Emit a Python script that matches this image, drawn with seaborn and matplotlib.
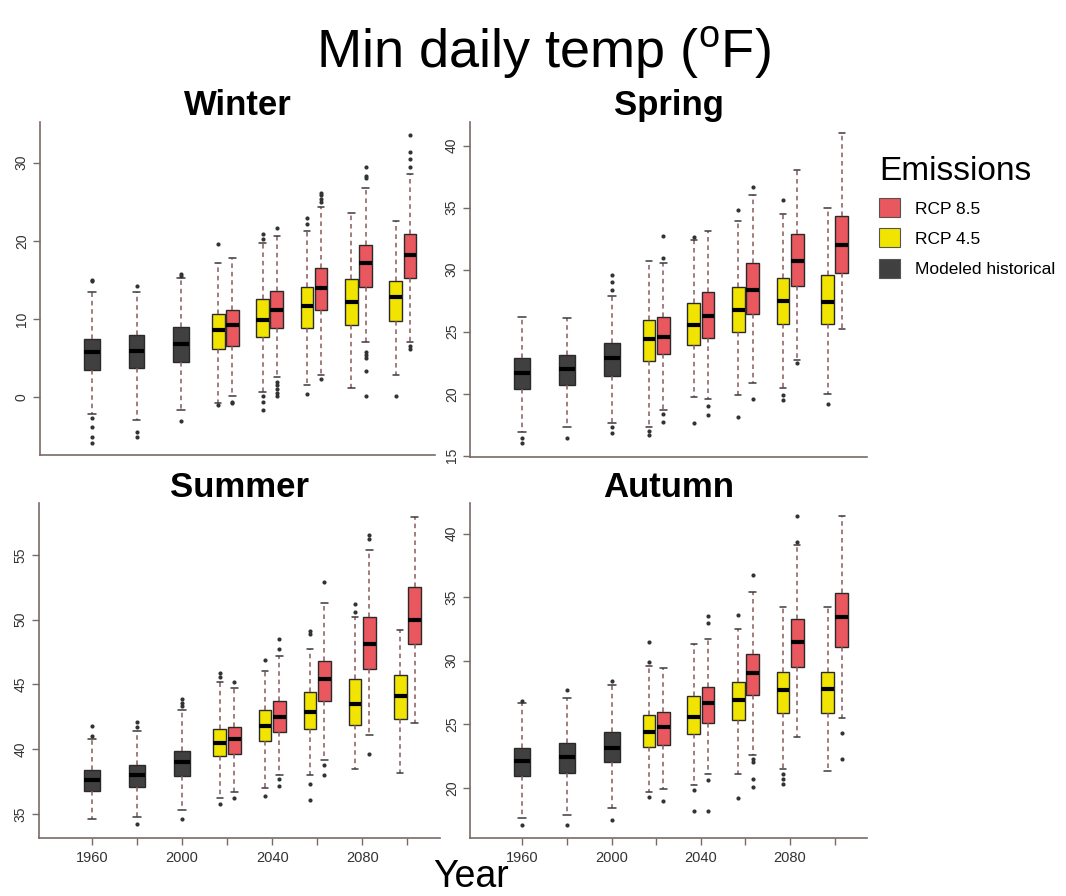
import numpy as np
import pandas as pd
import matplotlib
matplotlib.use("Agg")
import matplotlib.pyplot as plt
from matplotlib.patches import Patch
import seaborn as sns

# ---------------- data ----------------
HIST_YEARS = [1960, 1980, 2000]
FUT_YEARS = [2020, 2040, 2060, 2080, 2100]
SEASONS = ["Winter", "Spring", "Summer", "Autumn"]
SCENARIOS = ["Modeled historical", "RCP 4.5", "RCP 8.5"]
XTICKS = [1960, 1980, 2000, 2020, 2040, 2060, 2080, 2100]
XTICK_LABELS = ["1960", "", "2000", "", "2040", "", "2080", ""]

# order in every array: 3 historical (1960,1980,2000), 5 RCP 4.5, 5 RCP 8.5 (2020..2100)
WINTER_LO = [-2.1, -2.9, -1.6, -0.8, 0.7, 1.5, 1.2, 2.8, 0.1, 2.6, 2.8, 7.1, 7.1]
WINTER_Q1 = [3.5, 3.7, 4.5, 6.1, 7.7, 8.8, 9.2, 9.8, 6.5, 8.9, 11.15, 14.1, 15.2]
WINTER_MED = [5.8, 5.9, 6.75, 8.6, 9.9, 11.6, 12.2, 12.8, 9.2, 11.15, 13.9, 17.1, 18.2]
WINTER_Q3 = [7.5, 7.9, 9.0, 10.7, 12.5, 14.1, 15.1, 14.9, 11.15, 13.6, 16.5, 19.5, 20.9]
WINTER_HI = [13.4, 13.4, 15.2, 17.1, 19.7, 21.2, 23.5, 22.5, 17.8, 20.6, 24.3, 26.8, 28.5]
WINTER_OUT = [[15.0, 14.8, -2.7, -3.8, -5.1, -5.9], [14.2, -4.4, -5.1], [15.8, 15.5, -3.0],
              [19.6, -1.0], [20.9, 20.2, 0.1, -0.6, -1.7], [22.9, 22.2, 0.4], [], [0.2],
              [-0.8, -0.6], [21.6, 2.0, 1.5, 1.0, 0.5, 0.2], [25.0, 25.4, 25.8, 26.1, 2.3],
              [28.0, 28.3, 29.5, 5.8, 5.4, 5.0, 3.3, 0.2], [29.5, 30.5, 31.4, 33.6, 6.5, 6.2]]

SPRING_LO = [16.9, 17.3, 17.6, 17.3, 19.7, 19.9, 20.5, 20.0, 18.7, 19.6, 20.9, 22.7, 25.2]
SPRING_Q1 = [20.4, 20.7, 21.45, 22.6, 23.9, 25.0, 25.6, 25.6, 23.2, 24.5, 26.4, 28.7, 29.7]
SPRING_MED = [21.7, 22.0, 22.9, 24.4, 25.5, 26.75, 27.5, 27.4, 24.6, 26.3, 28.4, 30.7, 32.0]
SPRING_Q3 = [22.85, 23.1, 24.05, 25.95, 27.3, 28.6, 29.3, 29.6, 26.15, 28.2, 30.5, 32.9, 34.3]
SPRING_HI = [26.2, 26.1, 27.9, 30.7, 32.4, 33.9, 34.5, 35.0, 30.5, 33.1, 36.0, 38.0, 41.0]
SPRING_OUT = [[16.4, 16.0], [16.4], [28.4, 29.0, 29.6, 17.3, 16.8],
              [17.0, 16.7], [32.6, 17.6], [34.8, 18.1], [35.6, 19.9, 19.5], [19.2],
              [30.9, 32.7, 18.4, 17.7], [19.0, 18.3], [36.7, 19.6], [22.5], []]

SUMMER_LO = [34.6, 34.8, 35.3, 36.2, 37.0, 38.0, 38.5, 38.2, 36.7, 38.0, 39.2, 41.1, 42.0]
SUMMER_Q1 = [36.8, 37.1, 37.95, 39.45, 40.6, 41.55, 41.9, 42.3, 39.6, 41.3, 43.7, 46.2, 48.1]
SUMMER_MED = [37.6, 38.0, 39.0, 40.5, 41.8, 42.9, 43.5, 44.1, 40.8, 42.5, 45.4, 48.1, 50.0]
SUMMER_Q3 = [38.4, 38.8, 39.9, 41.55, 43.05, 44.45, 45.4, 45.7, 41.75, 43.75, 46.8, 50.2, 52.55]
SUMMER_HI = [40.8, 41.4, 43.0, 45.2, 46.0, 47.7, 50.2, 49.2, 44.7, 47.2, 51.3, 55.4, 57.9]
SUMMER_OUT = [[41.0, 41.8], [41.7, 42.1, 34.2], [43.3, 43.6, 43.9, 34.6],
              [45.6, 45.9, 35.8], [46.9, 36.4], [48.9, 49.1, 37.3, 36.1], [50.6, 51.2], [],
              [45.2, 36.2], [47.7, 48.5, 37.7, 37.2], [52.9, 38.8, 38.0], [56.2, 56.5, 39.6], []]

AUTUMN_LO = [17.6, 17.9, 18.4, 19.7, 20.2, 21.1, 21.5, 21.3, 19.95, 21.1, 22.6, 24.0, 25.5]
AUTUMN_Q1 = [20.9, 21.15, 22.0, 23.2, 24.2, 25.3, 25.9, 25.9, 23.4, 25.1, 27.3, 29.5, 31.1]
AUTUMN_MED = [22.15, 22.4, 23.1, 24.4, 25.6, 26.9, 27.7, 27.8, 24.8, 26.7, 29.0, 31.45, 33.4]
AUTUMN_Q3 = [23.15, 23.5, 24.4, 25.7, 27.2, 28.3, 29.1, 29.15, 26.0, 27.9, 30.55, 33.3, 35.3]
AUTUMN_HI = [26.7, 27.05, 28.1, 29.55, 31.3, 32.5, 34.2, 34.2, 29.4, 31.7, 35.4, 39.1, 41.4]
AUTUMN_OUT = [[26.8, 17.05], [27.7, 17.05], [28.4, 17.5],
              [29.9, 31.5, 19.3], [19.8, 18.2], [33.6, 19.2], [21.1, 20.7, 20.3], [],
              [19.0], [33.0, 33.5, 20.6, 18.2], [36.7, 22.3, 22.0, 20.7, 20.1], [39.3, 41.4],
              [24.3, 22.3]]

YLIMS = {"Winter": (-7.4, 35.2), "Spring": (14.9, 41.9),
         "Summer": (33.15, 59.0), "Autumn": (16.06, 42.4)}
YTICKS = {"Winter": [0, 10, 20, 30], "Spring": [15, 20, 25, 30, 35, 40],
          "Summer": [35, 40, 45, 50, 55], "Autumn": [20, 25, 30, 35, 40]}

STATS = {
    "Winter": (WINTER_LO, WINTER_Q1, WINTER_MED, WINTER_Q3, WINTER_HI, WINTER_OUT),
    "Spring": (SPRING_LO, SPRING_Q1, SPRING_MED, SPRING_Q3, SPRING_HI, SPRING_OUT),
    "Summer": (SUMMER_LO, SUMMER_Q1, SUMMER_MED, SUMMER_Q3, SUMMER_HI, SUMMER_OUT),
    "Autumn": (AUTUMN_LO, AUTUMN_Q1, AUTUMN_MED, AUTUMN_Q3, AUTUMN_HI, AUTUMN_OUT),
}

# ---------------- styling ----------------
COLORS = {"Modeled historical": "#404040", "RCP 4.5": "#F0E400", "RCP 8.5": "#E8585E"}
OFFSET = {"Modeled historical": 0.0, "RCP 4.5": -3.2, "RCP 8.5": 3.2}
BOXW = {"Modeled historical": 7.1, "RCP 4.5": 5.7, "RCP 8.5": 5.7}
SPINE = "#7a6a66"
WHISK = "#8a5a5a"

sns.set_theme(style="white")
plt.rcParams["font.family"] = ["Liberation Sans", "DejaVu Sans"]
plt.rcParams["mathtext.fontset"] = "custom"
plt.rcParams["mathtext.rm"] = "Liberation Sans"
plt.rcParams["mathtext.it"] = "Liberation Sans:italic"
plt.rcParams["text.color"] = "black"
plt.rcParams["axes.titlecolor"] = "black"

W, H = 1066, 896
fig = plt.figure(figsize=(W / 100, H / 100), dpi=100)
fig.patch.set_facecolor("white")

# axes rectangles in pixels: left, top, right, bottom
RECTS = {"Winter": (40, 122, 435, 455), "Spring": (470, 122, 867, 457),
         "Summer": (39, 503, 440, 838), "Autumn": (470, 503, 867, 838)}


def box_rows(season):
    lo, q1, med, q3, hi, out = STATS[season]
    years = HIST_YEARS + FUT_YEARS + FUT_YEARS
    scen = [SCENARIOS[0]] * 3 + [SCENARIOS[1]] * 5 + [SCENARIOS[2]] * 5
    rows, frows = [], []
    for i in range(13):
        for v in (lo[i], q1[i], med[i], q3[i], hi[i]):
            rows.append({"year": years[i], "scenario": scen[i], "value": v})
        for v in out[i]:
            frows.append({"year": years[i], "scenario": scen[i], "value": v})
    return pd.DataFrame(rows), pd.DataFrame(frows)


for season in SEASONS:
    l, t, r, b = RECTS[season]
    ax = fig.add_axes([l / W, 1 - b / H, (r - l) / W, (b - t) / H])
    df, fdf = box_rows(season)
    df["pos"] = df["year"] + df["scenario"].map(OFFSET)
    fdf["pos"] = fdf["year"] + fdf["scenario"].map(OFFSET)
    for sc in SCENARIOS:
        sub = df[df["scenario"] == sc]
        sns.boxplot(data=sub, x="pos", y="value", native_scale=True, ax=ax,
                    whis=(0, 100), width=BOXW[sc] / 20.0, color=COLORS[sc],
                    saturation=1, linecolor="#2a2a2a", linewidth=1.0,
                    showfliers=False,
                    medianprops=dict(color="black", linewidth=3),
                    whiskerprops=dict(color=WHISK, linestyle=(0, (3, 2.5)), linewidth=1.1),
                    capprops=dict(color="#3a3a3a", linewidth=1.1))
    ax.scatter(fdf["pos"], fdf["value"], s=9, color="#333333", zorder=3, linewidths=0)

    ax.set_xlim(1936.5, 2114.5)
    ax.set_ylim(*YLIMS[season])
    ax.set_yticks(YTICKS[season])
    ax.set_yticklabels([str(v) for v in YTICKS[season]], rotation=90, va="center")
    ax.set_xlabel("")
    ax.set_ylabel("")
    for s in ["top", "right"]:
        ax.spines[s].set_visible(False)
    for s in ["left", "bottom"]:
        ax.spines[s].set_color(SPINE)
        ax.spines[s].set_linewidth(1.2)
    ax.tick_params(axis="y", length=5, width=1, color=SPINE, labelsize=10,
                   labelcolor="#333333", pad=3, left=True)
    if season in ("Summer", "Autumn"):
        ax.set_xticks(XTICKS)
        ax.set_xticklabels(XTICK_LABELS)
        ax.tick_params(axis="x", length=5, width=1, color=SPINE, labelsize=10.5,
                       labelcolor="#333333", pad=4, bottom=True)
    else:
        ax.set_xticks([])
    ax.set_title(season, fontsize=25, fontweight="bold", pad=4, color="black")

fig.text(543 / W, 1 - 68 / H, r"Min daily temp ($^{\mathrm{o}}$F)", ha="center",
         va="baseline", fontsize=39, color="black")
fig.text(471 / W, 1 - 887 / H, "Year", ha="center", va="baseline", fontsize=27,
         color="black")

handles = [Patch(facecolor=COLORS[s], edgecolor="#555555", linewidth=0.8)
           for s in ["RCP 8.5", "RCP 4.5", "Modeled historical"]]
leg = fig.legend(handles, ["RCP 8.5", "RCP 4.5", "Modeled historical"],
                 title="Emissions", loc="upper left",
                 bbox_to_anchor=(879 / W, 1 - 156 / H), frameon=False,
                 fontsize=12.5, title_fontsize=24, handlelength=1.2,
                 handleheight=1.3, handletextpad=0.9, labelspacing=0.65,
                 borderpad=0, borderaxespad=0)
leg._legend_box.align = "left"
for txt in leg.get_texts():
    txt.set_color("black")
leg.get_title().set_color("black")

fig.savefig("out.png", dpi=100, facecolor="white")
